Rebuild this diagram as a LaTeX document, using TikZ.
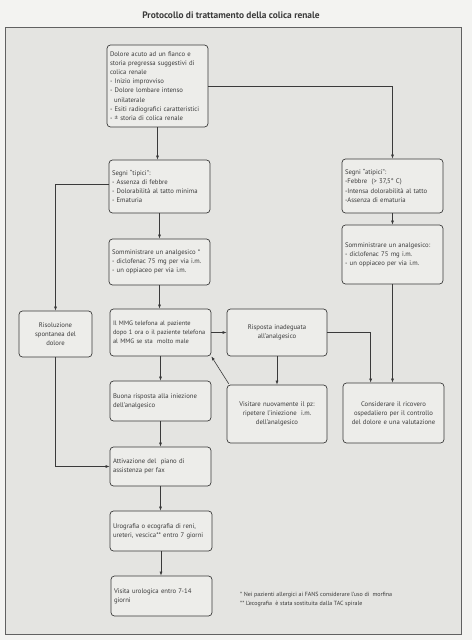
\documentclass[tikz,border=0pt]{standalone}
\usepackage{fontspec}
\setmainfont{PT Sans}
\usetikzlibrary{arrows.meta}
\definecolor{pagebg}{HTML}{F3F3F1}
\definecolor{framebg}{HTML}{E4E4E1}
\definecolor{boxbg}{HTML}{EDEDEA}
\definecolor{ink}{HTML}{3A3A3A}
\hyphenpenalty=10000\relax
\exhyphenpenalty=10000\relax
\tikzset{
  box/.style={draw=ink, fill=boxbg, line width=0.7pt, rounded corners=3.5pt,
    inner xsep=3pt, inner ysep=2pt,
    font=\fontsize{6.7}{9.2}\selectfont, text=ink},
  conn/.style={draw=ink, line width=0.6pt, -{Latex[length=4pt,width=3pt]}},
  plain/.style={draw=ink, line width=0.6pt}
}
\newcommand\bx[7]{%
  \node[box, minimum width={#4pt-#2pt}, minimum height={#5pt-#3pt},
        text width={#4pt-#2pt-6pt}, #6] (#1) at ({(#2+#4)/2},{(#3+#5)/2}) {#7};}
\begin{document}
\begin{tikzpicture}[x=1pt,y=-1pt]
\useasboundingbox (0,0) rectangle (472,640);
\fill[pagebg] (0,0) rectangle (472,640);
\draw[fill=framebg, draw=ink!80, line width=0.8pt] (5,27) rectangle (461,634);
\node[font=\bfseries\fontsize{9.4}{11}\selectfont, text=ink] (title) at (231,15) {Protocollo di trattamento della colica renale};

\bx{n1}{107}{45}{208}{127}{align=left}{Dolore acuto ad un fianco e\\ storia pregressa suggestivi di\\ colica renale\\
- Inizio improvviso\\
- Dolore lombare intenso\\\hspace*{4pt}unilaterale\\
- Esiti radiografici caratteristici\\
- ± storia di colica renale}
\bx{typ}{109}{160}{210}{213}{align=left}{Segni “tipici”:\\
- Assenza di febbre\\
- Dolorabilità al tatto minima\\
- Ematuria}
\bx{atyp}{342}{159}{443}{213}{align=left}{Segni “atipici”:\\
-Febbre \ (> 37,5° C)\\
-Intensa dolorabilità al tatto\\
-Assenza di ematuria}
\bx{somT}{109}{239}{210}{285}{align=left}{Somministrare un analgesico *\\
- diclofenac 75 mg per via i.m.\\
- un oppiaceo per via i.m.}
\bx{somA}{342}{225}{443}{284}{align=left}{Somministrare un analgesico:\\
- diclofenac 75 mg i.m.\\
- un oppiaceo per via i.m.\\[6pt]}
\bx{ris}{19}{311}{92}{357}{align=center}{Risoluzione\\ spontanea del\\ dolore}
\bx{mmg}{110}{309}{211}{356}{align=left}{\fontsize{6.4}{9.2}\selectfont Il MMG telefona al paziente\\ dopo 1 ora o il paziente telefona\\ al MMG se sta \ molto male}
\bx{inad}{227}{309}{327}{356}{align=center}{Risposta inadeguata\\ all’analgesico\\[6pt]}
\bx{vis}{227}{385}{327}{443}{align=center}{Visitare nuovamente il pz:\\ ripetere l’iniezione \ i.m.\\ dell’analgesico}
\bx{cons}{343}{383}{444}{443}{align=center}{Considerare il ricovero\\ ospedaliero per il controllo\\ del dolore e una valutazione}
\bx{buona}{110}{381}{211}{421}{align=left}{Buona risposta alla iniezione\\ dell’analgesico}
\bx{attiv}{110}{447}{211}{486}{align=left}{Attivazione del \ piano di\\ assistenza per fax}
\bx{uro}{110}{511}{212}{551}{align=left}{Urografia o ecografia di reni,\\ ureteri, vescica** entro 7 giorni}
\bx{visita}{111}{576}{212}{616}{align=left}{Visita urologica entro 7-14\\ giorni}

\node[anchor=north west, font=\fontsize{6}{8.6}\selectfont, text=ink, align=left, inner sep=0] (notes) at (240,592)
  {* Nei pazienti allergici ai FANS considerare l’uso di \ morfina\\
   ** L’ecografia \ è stata sostituita dalla TAC spirale};

\draw[conn] (n1.south) -- (n1.south |- typ.north);
\draw[conn] (n1.east) -| (atyp.north);
\draw[conn] ([yshift=2pt]typ.west) -| (ris.north);
\draw[conn] (typ.south) -- (typ.south |- somT.north);
\draw[conn] (atyp.south) -- (atyp.south |- somA.north);
\draw[conn] (somA.south) -- (somA.south |- cons.north);
\draw[conn] (somT.south) -- (somT.south |- mmg.north);
\draw[conn] (mmg.east) -- (inad.west);
\coordinate (consin) at ([xshift=28pt]cons.north west);
\draw[conn] (inad.east) -| (consin);
\draw[conn] (inad.south) -- (inad.south |- vis.north);
\draw[conn] ([xshift=2pt,yshift=1pt]vis.north west) -- (mmg.south east);
\draw[conn] (mmg.south) -- (mmg.south |- buona.north);
\draw[conn] (buona.south) -- (buona.south |- attiv.north);
\draw[conn] (ris.south) |- (attiv.west);
\draw[conn] (attiv.south) -- (attiv.south |- uro.north);
\draw[conn] (uro.south) -- (uro.south |- visita.north);
\end{tikzpicture}
\end{document}
